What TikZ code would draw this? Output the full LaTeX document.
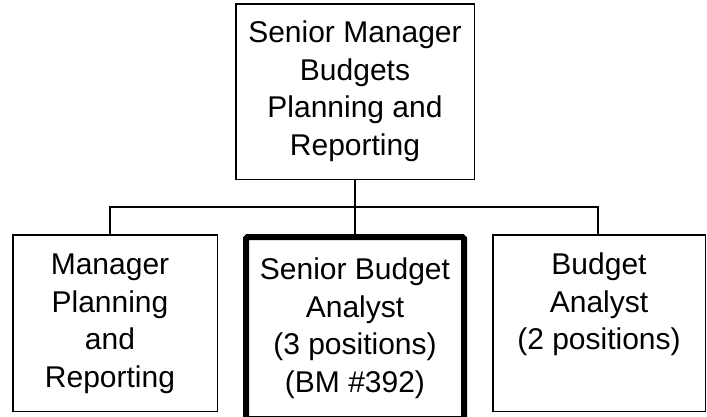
\documentclass[tikz,border=0pt]{standalone}
\usepackage{fontspec}
\setmainfont{Liberation Sans}
\begin{document}
\begin{tikzpicture}[x=1pt,y=-1pt,
  box/.style={draw=black, line width=1.5pt, inner sep=0pt, fill=white},
  thickbox/.style={draw=black, line width=6pt, inner sep=0pt, rounded corners=1.5pt},
  txt/.style={align=center, inner sep=0pt, font=\fontsize{30}{37.5}\selectfont},
  conn/.style={draw=black, line width=1.5pt}]
\useasboundingbox (0,0) rectangle (707,416);
\node[box, minimum width=238.5pt, minimum height=175.5pt] (top) at (355,91.5) {};
\node[box, minimum width=204.5pt, minimum height=176.5pt] (left) at (115,323) {};
\node[box, minimum width=212.5pt, minimum height=176.5pt] (right) at (599,323) {};
\node[thickbox, minimum width=218pt, minimum height=182pt] (mid) at (355,328) {};
\coordinate (bl) at (110,207);
\coordinate (br) at (598,207);
\draw[conn] (top.south) -- (mid.north);
\draw[conn] (bl |- left.north) -- (bl) -- (br) -- (br |- right.north);
\node[txt] (ttop) at (355,91) {Senior Manager\\Budgets\\Planning and\\Reporting};
\node[txt] (tleft) at (110,324) {Manager\\Planning\\and\\Reporting};
\node[txt] (tmid) at (355,328) {Senior Budget\\Analyst\\(3 positions)\\(BM \#392)};
\node[txt] (tright) at (599,304.5) {Budget\\Analyst\\(2 positions)};
\end{tikzpicture}
\end{document}
